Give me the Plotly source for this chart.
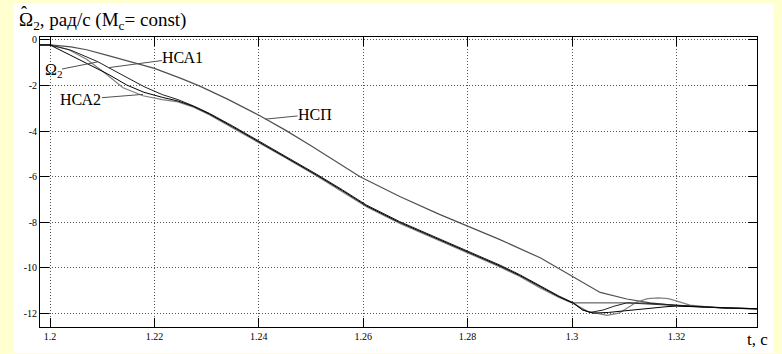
import plotly.graph_objects as go

# ---------------- data ----------------
t_omega2 = [1.198, 1.2, 1.204, 1.208, 1.2111, 1.2147, 1.218, 1.2215, 1.2245, 1.2275,
            1.2305, 1.235, 1.2402, 1.245, 1.2511, 1.256, 1.2607, 1.267, 1.274, 1.2801,
            1.2862, 1.29, 1.2939, 1.2975, 1.3003, 1.302, 1.304, 1.307, 1.31, 1.314,
            1.318, 1.32, 1.325, 1.33, 1.3356]
v_omega2 = [-0.22, -0.22, -0.68, -1.15, -1.5, -1.98, -2.3, -2.52, -2.68, -2.92,
            -3.25, -3.82, -4.5, -5.12, -5.94, -6.62, -7.3, -8.02, -8.72, -9.33,
            -9.93, -10.35, -10.85, -11.28, -11.57, -11.86, -12.0, -11.97, -11.9, -11.8,
            -11.72, -11.69, -11.73, -11.78, -11.81]

t_nsa1 = [1.198, 1.2, 1.204, 1.2092, 1.2111, 1.2145, 1.218, 1.2215, 1.2245, 1.2275,
          1.2305, 1.235, 1.2402, 1.245, 1.2511, 1.256, 1.2607, 1.267, 1.274, 1.2801,
          1.2862, 1.29, 1.2939, 1.2975, 1.3003, 1.302, 1.3035, 1.306, 1.308, 1.3105,
          1.314, 1.318, 1.32, 1.325, 1.33, 1.3356]
v_nsa1 = [-0.22, -0.22, -0.45, -0.96, -1.2, -1.62, -2.05, -2.4, -2.62, -2.9,
          -3.22, -3.78, -4.46, -5.08, -5.9, -6.58, -7.26, -7.98, -8.68, -9.29,
          -9.89, -10.31, -10.81, -11.25, -11.55, -11.85, -11.97, -11.86, -11.7, -11.55,
          -11.56, -11.62, -11.66, -11.73, -11.79, -11.81]

t_nsa2 = [1.198, 1.2, 1.2035, 1.207, 1.2102, 1.214, 1.2178, 1.2215, 1.2245, 1.2275,
          1.2305, 1.235, 1.2402, 1.245, 1.2511, 1.256, 1.2607, 1.267, 1.274, 1.2801,
          1.2862, 1.29, 1.2939, 1.2975, 1.3003, 1.303, 1.3067, 1.309, 1.311, 1.3125,
          1.3145, 1.3165, 1.3185, 1.3205, 1.3226, 1.327, 1.3356]
v_nsa2 = [-0.22, -0.22, -0.42, -0.85, -1.4, -2.1, -2.45, -2.62, -2.72, -2.95,
          -3.28, -3.86, -4.54, -5.16, -5.98, -6.66, -7.34, -8.06, -8.76, -9.37,
          -9.97, -10.39, -10.89, -11.31, -11.58, -11.92, -12.1, -12.0, -11.72, -11.5,
          -11.36, -11.33, -11.36, -11.5, -11.65, -11.75, -11.81]

t_nsp = [1.198, 1.2, 1.204, 1.207, 1.211, 1.2159, 1.22, 1.2252, 1.2287, 1.234,
         1.2402, 1.245, 1.25, 1.2594, 1.267, 1.2745, 1.2801, 1.2862, 1.2939, 1.3003,
         1.3054, 1.3105, 1.315, 1.32, 1.3258, 1.3356]
v_nsp = [-0.22, -0.22, -0.3, -0.43, -0.68, -1.0, -1.25, -1.7, -2.03, -2.6,
         -3.33, -3.95, -4.65, -6.01, -6.88, -7.65, -8.19, -8.77, -9.57, -10.43,
         -11.09, -11.38, -11.55, -11.67, -11.74, -11.81]

t_flat = [1.3003, 1.3105, 1.3169, 1.322, 1.33, 1.3356]
v_flat = [-11.55, -11.55, -11.63, -11.7, -11.78, -11.81]

x_ticks = [1.2, 1.22, 1.24, 1.26, 1.28, 1.3, 1.32]
x_tick_labels = ["1.2", "1.22", "1.24", "1.26", "1.28", "1.3", "1.32"]
y_ticks = [0, -2, -4, -6, -8, -10, -12]
y_tick_labels = ["0", "-2", "-4", "-6", "-8", "-10", "-12"]

label_texts = ["Ω<sub>2</sub>", "НСА1", "НСА2", "НСП"]
label_t = [1.2092, 1.2111, 1.2178, 1.2412]
label_v = [-0.96, -1.22, -2.39, -3.48]
label_dx = [-45, 75, -62, 50]
label_dy = [9, -10, 5, -5]

# ---------------- figure ----------------
fig = go.Figure()

def add_line(t, v, color, width, name):
    fig.add_trace(go.Scatter(x=t, y=v, mode="lines", name=name,
                             line=dict(color=color, width=width),
                             showlegend=False, hoverinfo="skip"))

add_line(t_nsp, v_nsp, "#505050", 1.2, "НСП")
add_line(t_flat, v_flat, "#404040", 1.0, "")
add_line(t_nsa2, v_nsa2, "#808080", 1.2, "НСА2")
add_line(t_nsa1, v_nsa1, "#202020", 1.0, "НСА1")
add_line(t_omega2, v_omega2, "#000000", 1.0, "Ω2")

serif = "Liberation Serif"
narrow = "Liberation Sans Narrow"

for txt, tx, ty, dx, dy in zip(label_texts, label_t, label_v, label_dx, label_dy):
    fig.add_annotation(x=tx, y=ty, xref="x", yref="y", text=txt,
                       showarrow=True, arrowhead=0, arrowwidth=1,
                       arrowcolor="#505050", ax=dx, ay=dy,
                       font=dict(family=serif, size=16, color="black"),
                       borderpad=0)

fig.add_annotation(x=-0.0321, y=1.055, xref="paper", yref="paper",
                   xanchor="left", yanchor="middle", showarrow=False,
                   text="Ω<sub>2</sub>, рад/с (M<sub>c</sub>= const)",
                   font=dict(family=serif, size=19, color="black"))
# hat over Omega in the title
fig.add_annotation(x=-0.0230, y=1.082, xref="paper", yref="paper",
                   xanchor="center", yanchor="middle", showarrow=False,
                   text="ˆ", font=dict(family=serif, size=18, color="black"))
fig.add_annotation(x=1.0, y=-0.044, xref="paper", yref="paper",
                   xanchor="center", yanchor="middle", showarrow=False,
                   text="t, c", font=dict(family=serif, size=17, color="black"))

# white panel over yellow page
fig.add_shape(type="rect", xref="paper", yref="paper",
              x0=-0.0363, x1=1.0223, y0=-0.09, y1=1.116,
              fillcolor="white", line=dict(width=0), layer="below")

axis_common = dict(showline=True, linecolor="black", linewidth=1, mirror="ticks",
                   ticks="inside", ticklen=9, tickcolor="black", tickwidth=1,
                   showgrid=True, gridcolor="#555555", gridwidth=1, griddash="1px,2px",
                   zeroline=False,
                   tickfont=dict(family=narrow, size=10, color="black"))

fig.update_xaxes(range=[1.19808, 1.33544], tickvals=x_ticks, ticktext=x_tick_labels,
                 **axis_common)
fig.update_yaxes(range=[-12.609, 0.130], tickvals=y_ticks, ticktext=y_tick_labels,
                 **axis_common)

fig.update_layout(width=782, height=354,
                  margin=dict(l=40, r=25, t=37, b=24),
                  paper_bgcolor="#FFFFCF", plot_bgcolor="white")

fig.write_html("out.html")
